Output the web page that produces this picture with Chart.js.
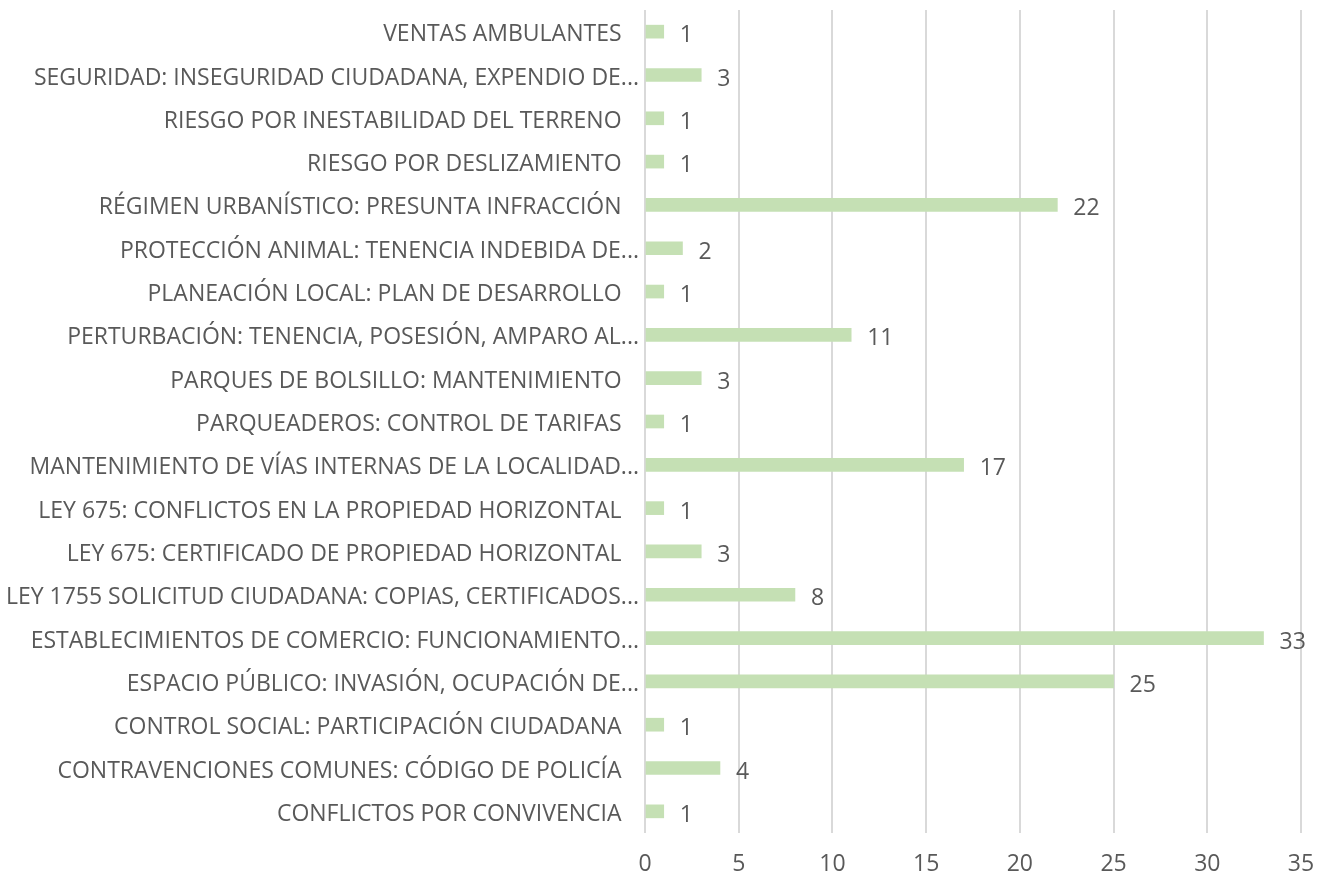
<!DOCTYPE html>
<html>
<head>
<meta charset="utf-8">
<script src="https://cdn.jsdelivr.net/npm/chart.js@4"></script>
<style>
  html, body { margin: 0; padding: 0; background: #fff; }
  #wrap { width: 1317px; height: 876px; }
</style>
</head>
<body>
<div id="wrap"><canvas id="chart"></canvas></div>
<script>
const categories = [
  "VENTAS AMBULANTES",
  "SEGURIDAD: INSEGURIDAD CIUDADANA, EXPENDIO DE...",
  "RIESGO POR INESTABILIDAD DEL TERRENO",
  "RIESGO POR DESLIZAMIENTO",
  "RÉGIMEN URBANÍSTICO: PRESUNTA INFRACCIÓN",
  "PROTECCIÓN ANIMAL: TENENCIA INDEBIDA DE...",
  "PLANEACIÓN LOCAL: PLAN DE DESARROLLO",
  "PERTURBACIÓN: TENENCIA, POSESIÓN, AMPARO AL...",
  "PARQUES DE BOLSILLO: MANTENIMIENTO",
  "PARQUEADEROS: CONTROL DE TARIFAS",
  "MANTENIMIENTO DE VÍAS INTERNAS DE LA LOCALIDAD...",
  "LEY 675: CONFLICTOS EN LA PROPIEDAD HORIZONTAL",
  "LEY 675: CERTIFICADO DE PROPIEDAD HORIZONTAL",
  "LEY 1755 SOLICITUD CIUDADANA: COPIAS, CERTIFICADOS...",
  "ESTABLECIMIENTOS DE COMERCIO: FUNCIONAMIENTO...",
  "ESPACIO PÚBLICO: INVASIÓN, OCUPACIÓN DE...",
  "CONTROL SOCIAL: PARTICIPACIÓN CIUDADANA",
  "CONTRAVENCIONES COMUNES: CÓDIGO DE POLICÍA",
  "CONFLICTOS POR CONVIVENCIA"
];
const counts = [1, 3, 1, 1, 22, 2, 1, 11, 3, 1, 17, 1, 3, 8, 33, 25, 1, 4, 1];
const xTicks = [0, 5, 10, 15, 20, 25, 30, 35];

const TEXT = "#595959";
const FONT = "'Open Sans', 'Liberation Sans', sans-serif";

// value labels to the right of each bar
const valueLabels = {
  id: "valueLabels",
  afterDatasetsDraw(chart) {
    const ctx = chart.ctx;
    const meta = chart.getDatasetMeta(0);
    ctx.save();
    ctx.fillStyle = TEXT;
    ctx.font = "23px " + FONT;
    ctx.textAlign = "left";
    ctx.textBaseline = "middle";
    meta.data.forEach((bar, i) => {
      ctx.fillText(String(counts[i]), bar.x + 16, bar.y + 4);
    });
    ctx.restore();
  }
};

const CHART = document.getElementById("chart");
let barChart = new Chart(CHART, {
  type: 'bar',
  data: {
    labels: categories,
    datasets: [{
      data: counts,
      backgroundColor: "#c5e0b4",
      borderWidth: 0,
      barThickness: 13
    }]
  },
  options: {
    indexAxis: 'y',
    responsive: true,
    maintainAspectRatio: false,
    animation: false,
    layout: { padding: { top: 10, right: 16, left: 0, bottom: 0 } },
    plugins: {
      legend: { display: false },
      tooltip: { enabled: false }
    },
    scales: {
      x: {
        min: 0,
        max: 35,
        afterBuildTicks: (scale) => { scale.ticks = xTicks.map(v => ({ value: v })); },
        afterFit: (scale) => {
          scale.height = 43;
          scale.paddingLeft = 0;
          scale.paddingRight = 0;
        },
        grid: { color: "#d9d9d9", lineWidth: 2, drawTicks: false },
        border: { display: false },
        ticks: { color: TEXT, font: { family: FONT, size: 23 }, padding: 18 }
      },
      y: {
        afterFit: (scale) => {
          scale.width = 645;
          scale.paddingTop = 0;
          scale.paddingBottom = 0;
        },
        grid: { display: false, drawTicks: false },
        border: { display: false },
        ticks: {
          autoSkip: false,
          color: TEXT,
          font: { family: FONT, size: 23 },
          padding: 6,
          labelOffset: 3,
          callback: (v, i) => categories[i].endsWith("...") ? categories[i] : categories[i] + "\u2002 "
        }
      }
    }
  },
  plugins: [valueLabels]
});
</script>
</body>
</html>
